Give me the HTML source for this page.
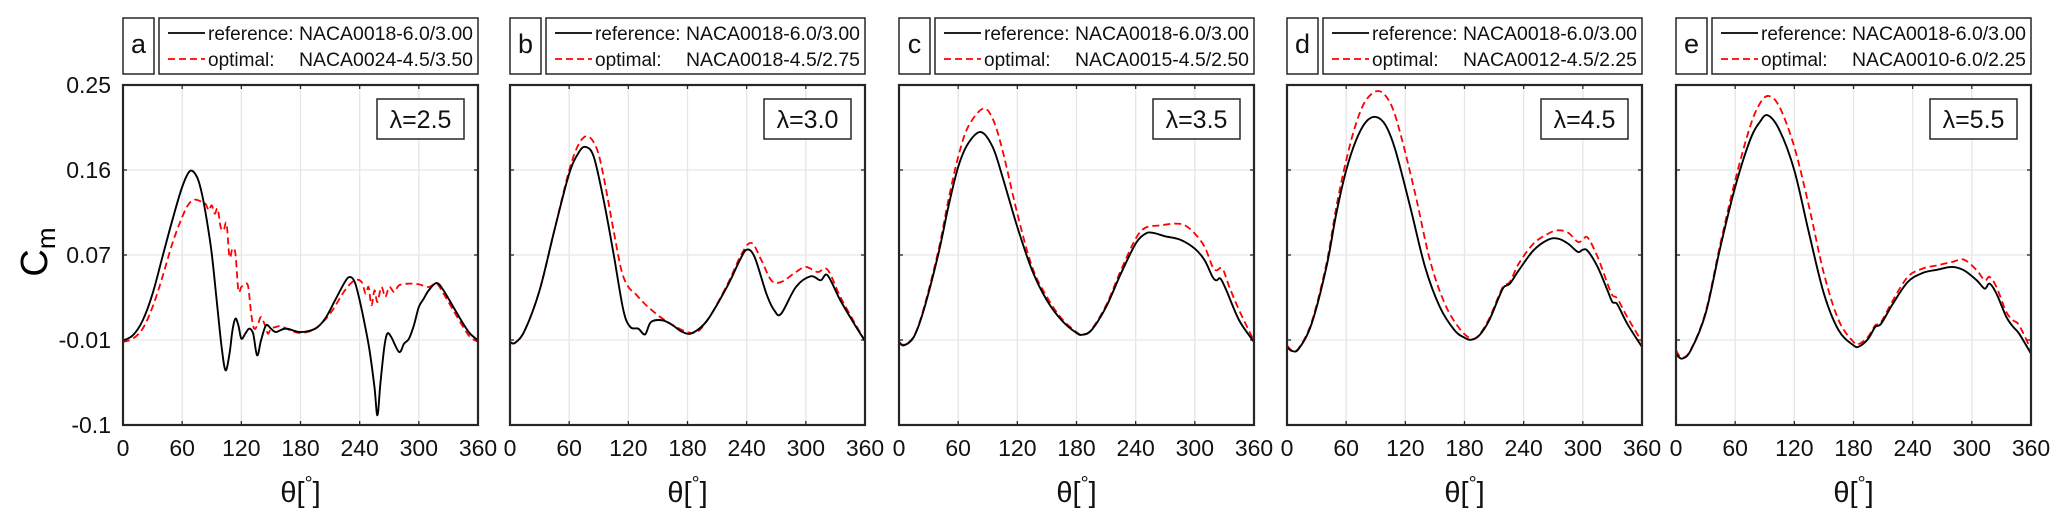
<!DOCTYPE html>
<html><head><meta charset="utf-8"><style>
html,body{margin:0;padding:0;background:#fff;}
svg{display:block;font-family:"Liberation Sans",Arial,sans-serif;}
</style></head><body>
<svg id="fig" width="2067" height="530" viewBox="0 0 2067 530" xmlns="http://www.w3.org/2000/svg">
<text transform="translate(47,252) rotate(-90)" text-anchor="middle" font-size="38">C<tspan font-size="26" dy="8">m</tspan></text>
</svg>
<script>
// ---- shared axis data ----
const xTicks = [0, 60, 120, 180, 240, 300, 360];
const yTickVals = [-0.1, -0.0125, 0.075, 0.1625, 0.25];
const yTickLabels = ["-0.1", "-0.01", "0.07", "0.16", "0.25"];
const panelLetters = ["a", "b", "c", "d", "e"];
const lambdas = ["λ=2.5", "λ=3.0", "λ=3.5", "λ=4.5", "λ=5.5"];
const refNames = ["NACA0018-6.0/3.00", "NACA0018-6.0/3.00", "NACA0018-6.0/3.00", "NACA0018-6.0/3.00", "NACA0018-6.0/3.00"];
const optNames = ["NACA0024-4.5/3.50", "NACA0018-4.5/2.75", "NACA0015-4.5/2.50", "NACA0012-4.5/2.25", "NACA0010-6.0/2.25"];

// ---- panel a ----
const thetaRefA = [0,10,20,30,40,50,60,68,75,80,85,90,95,100,104,108,111,114,117,120,124,128,132,136,140,145,150,155,165,180,195,205,215,225,230,235,240,245,250,255,258,261,265,268,272,280,285,290,295,300,305,310,318,325,335,345,352,360];
const cmRefA = [-0.013,-0.0077,0.0077,0.0352,0.073,0.1107,0.145,0.1615,0.1553,0.1381,0.1107,0.0764,0.0283,-0.0197,-0.0437,-0.0266,-0.0026,0.0095,0.0026,-0.0111,-0.006,-0.0008,-0.006,-0.0283,-0.0128,0.0026,-0.0008,-0.0043,-0.0008,-0.0043,-0.0008,0.0095,0.0283,0.0472,0.0524,0.0472,0.0283,0.0043,-0.0231,-0.0609,-0.09,-0.0574,-0.0197,-0.006,-0.0094,-0.0249,-0.0163,-0.0111,0.0026,0.0215,0.0301,0.0386,0.0462,0.0386,0.0215,0.0043,-0.006,-0.0128];
const thetaOptA = [0,10,20,30,40,50,60,67,73,80,84,87,90,93,96,99,102,105,108,111,114,117,120,124,127,130,133,137,140,144,147,150,155,160,170,180,195,210,225,235,242,246,249,252,255,258,262,266,270,275,280,290,300,310,318,325,335,345,352,360];
const cmOptA = [-0.0145,-0.0111,-0.0008,0.0215,0.0524,0.0867,0.1141,0.1279,0.132,0.1296,0.1272,0.121,0.1261,0.1176,0.1227,0.1038,0.1004,0.1073,0.073,0.0815,0.0764,0.0386,0.0421,0.0455,0.0421,0.0146,-0.0008,0.0043,0.0112,0.0026,-0.006,-0.0008,0.0009,0.0016,-0.0026,-0.0053,-0.0008,0.0146,0.0386,0.0489,0.0472,0.0352,0.0421,0.0232,0.0386,0.0266,0.0421,0.0318,0.0421,0.0369,0.0438,0.0455,0.0448,0.0421,0.0455,0.0352,0.018,0.0009,-0.0094,-0.0145];

// ---- panel b ----
const thetaRefB = [0,5,15,30,45,60,70,77,85,95,105,115,122,130,137,143,155,165,175,185,200,220,233,240,248,260,268,275,290,305,315,322,335,350,360];
const cmRefB = [-0.0145,-0.0155,-0.0026,0.0386,0.1004,0.1587,0.181,0.1862,0.1759,0.1313,0.0764,0.018,0.0009,-0.0008,-0.0067,0.006,0.0077,0.0026,-0.0043,-0.0053,0.0077,0.0421,0.0695,0.0805,0.073,0.0352,0.018,0.0146,0.0421,0.0531,0.0489,0.0541,0.0283,0.0026,-0.0135];
const thetaOptB = [0,5,15,30,45,60,70,79,88,95,105,113,120,127,140,160,185,200,220,235,245,255,265,275,290,300,312,322,335,350,360];
const cmOptB = [-0.0145,-0.0155,-0.0026,0.0386,0.1004,0.1621,0.1896,0.1972,0.1844,0.1553,0.1004,0.0592,0.0421,0.0352,0.0215,0.006,-0.0053,0.0077,0.0438,0.0764,0.0873,0.0695,0.0489,0.0472,0.0575,0.0627,0.0575,0.0599,0.0318,0.0043,-0.0135];

// ---- panel c ----
const thetaRefC = [0,5,15,25,40,50,60,70,83,95,105,120,135,150,165,180,186,195,210,225,240,250,258,270,285,300,310,318,322,326,332,345,360];
const cmRefC = [-0.0145,-0.018,-0.0094,0.018,0.0764,0.1244,0.1656,0.1896,0.2016,0.1862,0.1553,0.1038,0.0592,0.0283,0.0077,-0.0053,-0.007,-0.0026,0.0215,0.0558,0.0867,0.097,0.0977,0.0942,0.0908,0.0815,0.0695,0.0524,0.0489,0.0507,0.0386,0.0077,-0.0145];
const thetaOptC = [0,5,15,25,40,50,60,70,85,95,105,120,135,150,165,180,186,195,210,225,240,250,265,280,290,300,310,318,322,328,335,345,360];
const cmOptC = [-0.0145,-0.0173,-0.0088,0.0198,0.0798,0.1313,0.1759,0.2068,0.2256,0.2153,0.1827,0.1176,0.0627,0.0318,0.0095,-0.0043,-0.0067,-0.0019,0.0232,0.0592,0.0918,0.1031,0.1055,0.1073,0.1055,0.097,0.0832,0.0627,0.0592,0.061,0.0421,0.018,-0.0135];

// ---- panel d ----
const thetaRefD = [0,5,12,25,40,50,60,70,80,90,100,110,125,140,155,170,180,187,195,205,215,220,226,235,250,265,275,285,295,300,305,315,325,330,335,345,360];
const cmRefD = [-0.0197,-0.0238,-0.0214,0.0043,0.0627,0.1176,0.1621,0.193,0.2119,0.2171,0.2085,0.1827,0.1244,0.0627,0.0215,-0.0026,-0.0101,-0.0122,-0.0077,0.0077,0.0318,0.0421,0.0455,0.0592,0.0798,0.0908,0.0918,0.0867,0.0781,0.0805,0.0791,0.0627,0.0386,0.0266,0.0242,0.0043,-0.0197];
const thetaOptD = [0,5,12,25,40,50,60,70,80,93,105,115,130,145,160,175,187,195,205,215,220,226,235,250,265,275,285,295,300,305,315,325,330,335,345,360];
const cmOptD = [-0.018,-0.0231,-0.0207,0.006,0.0661,0.1244,0.1724,0.2102,0.2342,0.2438,0.2308,0.1999,0.1381,0.0695,0.0249,-0.0008,-0.0111,-0.007,0.0095,0.0335,0.0438,0.0472,0.0661,0.0867,0.097,0.1004,0.098,0.0884,0.0908,0.0929,0.073,0.0455,0.0335,0.0301,0.0112,-0.0145];

// ---- panel e ----
const thetaRefE = [0,6,15,30,45,60,75,85,93,105,120,135,150,165,180,186,195,202,208,220,235,250,265,280,292,305,313,318,325,335,342,348,360];
const cmRefE = [-0.0266,-0.0317,-0.0231,0.0146,0.0832,0.145,0.193,0.2119,0.2188,0.2034,0.1621,0.097,0.0352,-0.0026,-0.018,-0.019,-0.0111,0.0009,0.0043,0.0249,0.0472,0.0565,0.0599,0.0627,0.0592,0.0489,0.0404,0.0455,0.0352,0.0112,0.0009,-0.006,-0.0266];
const thetaOptE = [0,6,15,30,45,60,75,85,94,105,120,135,150,165,180,186,195,202,208,220,235,250,265,280,292,305,313,318,325,335,342,348,360];
const cmOptE = [-0.0231,-0.0307,-0.0224,0.0163,0.0867,0.1519,0.2068,0.2308,0.2387,0.2274,0.1862,0.1244,0.0558,0.0077,-0.0145,-0.0163,-0.0088,0.0026,0.006,0.0283,0.0524,0.061,0.0644,0.0678,0.0702,0.0592,0.0489,0.0524,0.0421,0.0163,0.0077,0.0026,-0.0224];

const refTheta = [thetaRefA, thetaRefB, thetaRefC, thetaRefD, thetaRefE];
const refCm = [cmRefA, cmRefB, cmRefC, cmRefD, cmRefE];
const optTheta = [thetaOptA, thetaOptB, thetaOptC, thetaOptD, thetaOptE];
const optCm = [cmOptA, cmOptB, cmOptC, cmOptD, cmOptE];

// ---- drawing ----
const NS = "http://www.w3.org/2000/svg";
const svg = document.getElementById("fig");
const PX0 = [123, 510, 899, 1287, 1676];
const PW = 355, TOP = 85, BOT = 425;
const Y_MIN = -0.1, Y_MAX = 0.25;

function mk(tag, attrs, parent) {
  const e = document.createElementNS(NS, tag);
  for (const k in attrs) e.setAttribute(k, attrs[k]);
  (parent || svg).appendChild(e);
  return e;
}
function smoothPath(pts) {
  let d = "M" + pts[0][0].toFixed(2) + "," + pts[0][1].toFixed(2);
  for (let i = 0; i < pts.length - 1; i++) {
    const p0 = pts[Math.max(0, i - 1)], p1 = pts[i], p2 = pts[i + 1], p3 = pts[Math.min(pts.length - 1, i + 2)];
    const t = 1 / 6;
    const c1x = p1[0] + (p2[0] - p0[0]) * t, c1y = p1[1] + (p2[1] - p0[1]) * t;
    const c2x = p2[0] - (p3[0] - p1[0]) * t, c2y = p2[1] - (p3[1] - p1[1]) * t;
    d += " C" + c1x.toFixed(2) + "," + c1y.toFixed(2) + " " + c2x.toFixed(2) + "," + c2y.toFixed(2) + " " + p2[0].toFixed(2) + "," + p2[1].toFixed(2);
  }
  return d;
}

for (let p = 0; p < 5; p++) {
  const x0 = PX0[p];
  const xs = v => x0 + v / 360 * PW;
  const ys = v => BOT - (v - Y_MIN) / (Y_MAX - Y_MIN) * (BOT - TOP);
  const g = mk("g", {});
  
  

  // grid
  for (const t of xTicks.slice(1, -1)) {
    const l = mk("line", {x1: xs(t), x2: xs(t), y1: TOP, y2: BOT, stroke: "#e6e6e6", "stroke-width": 1.3}, g);
    
    
    mk("line", {x1: xs(t), x2: xs(t), y1: BOT, y2: BOT - 4, stroke: "#262626", "stroke-width": 1.3}, g);
    mk("line", {x1: xs(t), x2: xs(t), y1: TOP, y2: TOP + 4, stroke: "#262626", "stroke-width": 1.3}, g);
  }
  for (const t of yTickVals.slice(1, -1)) {
    const l = mk("line", {x1: x0, x2: x0 + PW, y1: ys(t), y2: ys(t), stroke: "#e6e6e6", "stroke-width": 1.3}, g);
    
    
    mk("line", {x1: x0, x2: x0 + 4, y1: ys(t), y2: ys(t), stroke: "#262626", "stroke-width": 1.3}, g);
    mk("line", {x1: x0 + PW - 4, x2: x0 + PW, y1: ys(t), y2: ys(t), stroke: "#262626", "stroke-width": 1.3}, g);
  }

  // clip
  const cp = mk("clipPath", {id: "clip" + p}, g);
  mk("rect", {x: x0, y: TOP, width: PW, height: BOT - TOP}, cp);

  // series
  const refPts = refTheta[p].map((t, i) => [xs(t), ys(refCm[p][i])]);
  const optPts = optTheta[p].map((t, i) => [xs(t), ys(optCm[p][i])]);
  const lo = mk("path", {d: smoothPath(optPts), fill: "none", stroke: "#ff0000", "stroke-width": 1.8, "stroke-dasharray": "7,4", "clip-path": "url(#clip" + p + ")"}, g);
  
  
  const lr = mk("path", {d: smoothPath(refPts), fill: "none", stroke: "#000", "stroke-width": 1.9, "clip-path": "url(#clip" + p + ")"}, g);
  
  

  // frame
  const fr = mk("rect", {x: x0, y: TOP, width: PW, height: BOT - TOP, fill: "none", stroke: "#262626", "stroke-width": 2.2}, g);
  
  

  // x tick labels
  for (const t of xTicks) {
    const tx = mk("text", {x: xs(t), y: 456, "text-anchor": "middle", "font-size": 23, fill: "#111"}, g);
    tx.textContent = String(t);
    
    
  }
  // x title
  const xt = mk("text", {x: x0 + PW / 2, y: 502, "text-anchor": "middle", "font-size": 29, fill: "#111"}, g);
  xt.innerHTML = 'θ[<tspan font-size="20" dy="-12">°</tspan><tspan dy="12">]</tspan>';
  
  

  // y tick labels on first panel
  if (p === 0) {
    yTickVals.forEach((v, i) => {
      const ty = mk("text", {x: 111, y: ys(v) + 8, "text-anchor": "end", "font-size": 23, fill: "#111"}, g);
      ty.textContent = yTickLabels[i];
      
      
    });
  }

  // lambda box
  const lb = mk("g", {}, g);
  
  
  mk("rect", {x: x0 + 254, y: 99, width: 87, height: 40, fill: "#fff", stroke: "#262626", "stroke-width": 1.5}, lb);
  const lt = mk("text", {x: x0 + 297.5, y: 128, "text-anchor": "middle", "font-size": 25, fill: "#111"}, lb);
  lt.textContent = lambdas[p];

  // letter box
  const lbx = mk("g", {}, g);
  
  
  mk("rect", {x: x0, y: 18, width: 31, height: 56, fill: "#fff", stroke: "#262626", "stroke-width": 1.5}, lbx);
  const ltx = mk("text", {x: x0 + 15.5, y: 53, "text-anchor": "middle", "font-size": 27, fill: "#111"}, lbx);
  ltx.textContent = panelLetters[p];

  // legend
  const lg = mk("g", {}, g);
  
  
  mk("rect", {x: x0 + 36, y: 18, width: PW - 36, height: 56, fill: "#fff", stroke: "#262626", "stroke-width": 1.5}, lg);
  const e1 = mk("g", {}, lg);
  
  
  mk("line", {x1: x0 + 45, x2: x0 + 82, y1: 33, y2: 33, stroke: "#000", "stroke-width": 1.8}, e1);
  const t1 = mk("text", {x: x0 + 85, y: 40, "font-size": 19, fill: "#111"}, e1);
  t1.textContent = "reference:";
  const t1b = mk("text", {x: x0 + 350, y: 40, "text-anchor": "end", "font-size": 19, fill: "#111", textLength: 174, lengthAdjust: "spacingAndGlyphs"}, e1);
  t1b.textContent = refNames[p];
  const e2 = mk("g", {}, lg);
  
  
  mk("line", {x1: x0 + 45, x2: x0 + 82, y1: 59, y2: 59, stroke: "#ff0000", "stroke-width": 1.8, "stroke-dasharray": "7,4"}, e2);
  const t2 = mk("text", {x: x0 + 85, y: 66, "font-size": 19, fill: "#111"}, e2);
  t2.textContent = "optimal:";
  const t2b = mk("text", {x: x0 + 350, y: 66, "text-anchor": "end", "font-size": 19, fill: "#111", textLength: 174, lengthAdjust: "spacingAndGlyphs"}, e2);
  t2b.textContent = optNames[p];
}
</script>
</body></html>
